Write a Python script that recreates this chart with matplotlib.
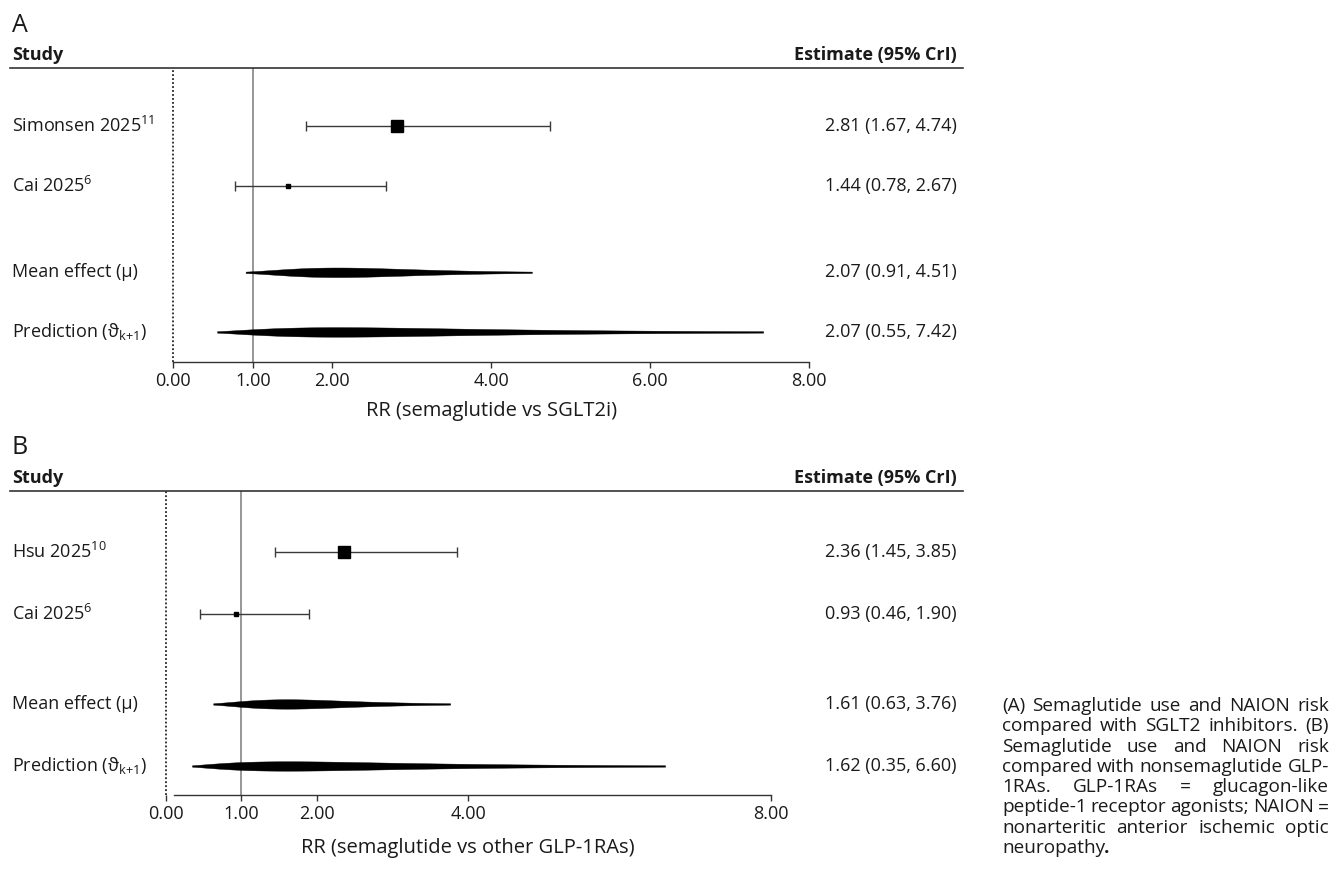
import numpy as np
import matplotlib
matplotlib.use('Agg')
import matplotlib.pyplot as plt

plt.rcParams['font.family'] = ['Open Sans', 'DejaVu Sans']
plt.rcParams['mathtext.fontset'] = 'custom'
plt.rcParams['mathtext.rm'] = 'Open Sans'
plt.rcParams['mathtext.it'] = 'Open Sans'
plt.rcParams['mathtext.bf'] = 'Open Sans:bold'
plt.rcParams['mathtext.fallback'] = 'stixsans'

# Panel A: semaglutide vs SGLT2i
a_studies = ['Simonsen 2025$^{11}$', 'Cai 2025$^{6}$']
a_est = [2.81, 1.44]
a_lo = [1.67, 0.78]
a_hi = [4.74, 2.67]
a_sum_est = [2.07, 2.07]
a_sum_lo = [0.91, 0.55]
a_sum_hi = [4.51, 7.42]
a_ticks = [0, 1, 2, 4, 6, 8]

# Panel B: semaglutide vs other GLP-1RAs
b_studies = ['Hsu 2025$^{10}$', 'Cai 2025$^{6}$']
b_est = [2.36, 0.93]
b_lo = [1.45, 0.46]
b_hi = [3.85, 1.90]
b_sum_est = [1.61, 1.62]
b_sum_lo = [0.63, 0.35]
b_sum_hi = [3.76, 6.60]
b_ticks = [0, 1, 2, 4, 8]

sum_labels = ['Mean effect (\u03bc)', r'Prediction ($\mathrm{\vartheta}_{\mathrm{k{+}1}}$)']

caption = ['(A) Semaglutide use and NAION risk',
           'compared with SGLT2 inhibitors. (B)',
           'Semaglutide use and NAION risk',
           'compared with nonsemaglutide GLP-',
           '1RAs. GLP-1RAs = glucagon-like',
           'peptide-1 receptor agonists; NAION =',
           'nonarteritic anterior ischemic optic',
           'neuropathy']

W, H = 1336, 889
TXT = '#1a1a1a'
fig = plt.figure(figsize=(W / 100, H / 100), dpi=100)


def px_axes(left, top, right, bottom):
    return fig.add_axes([left / W, 1 - bottom / H, (right - left) / W, (bottom - top) / H])


def panel(ax, letter, letter_y, studies, est, lo, hi, s_est, s_lo, s_hi,
          ticks, xlim, ylim, xlabel, axis_from, half, study_off, xlab_off):
    gap = 1.45
    y_sum = [2, 1]
    y_st = [2 + gap + 1, 2 + gap]

    ax.set_xlim(*xlim)
    ax.set_ylim(*ylim)

    ax.axvline(0, color='black', lw=1.1, ls=(0, (1.2, 1.4)), zorder=1)
    ax.axvline(1, color='#7a7a7a', lw=1.1, zorder=1)

    est = np.array(est)
    ax.errorbar(est, y_st, xerr=[est - np.array(lo), np.array(hi) - est],
                fmt='none', ecolor='#3a3a3a', elinewidth=1.0, capsize=3.4,
                capthick=1.0, zorder=2)
    for x, y, ms in zip(est, y_st, [9.0, 2.8]):
        ax.plot(x, y, marker='s', ms=ms, color='black', ls='none', zorder=3)

    # posterior-like shapes for the summary rows
    for m, l, h, y in zip(s_est, s_lo, s_hi, y_sum):
        xs = np.linspace(l, h, 400)
        lx, lm = np.log(xs), np.log(m)
        sl = (lm - np.log(l)) / 1.96
        sr = (np.log(h) - lm) / 1.96
        z = np.where(lx < lm, (lx - lm) / sl, (lx - lm) / sr)
        hw = half * np.exp(-z ** 2 / 2)
        ax.fill_between(xs, y - hw, y + hw, color='black', lw=0.3, zorder=3)

    yt = ax.get_yaxis_transform()
    for lab, y in zip(studies + sum_labels, y_st + y_sum):
        ax.text(0.002, y, lab, transform=yt, ha='left', va='center',
                fontsize=13, color=TXT)
    ests = [f'{e:.2f} ({l:.2f}, {h:.2f})' for e, l, h in zip(est, lo, hi)]
    ests += [f'{e:.2f} ({l:.2f}, {h:.2f})' for e, l, h in zip(s_est, s_lo, s_hi)]
    for s, y in zip(ests, y_st + y_sum):
        ax.text(0.9937, y, s, transform=yt, ha='right', va='center',
                fontsize=13, color=TXT)

    ax.text(0.002, 1 + study_off, 'Study', transform=ax.transAxes, ha='left',
            va='center', fontsize=13, fontweight='bold', color=TXT)
    ax.text(0.9937, 1 + study_off, 'Estimate (95% CrI)', transform=ax.transAxes,
            ha='right', va='center', fontsize=13, fontweight='bold', color=TXT)
    fig.text(12 / W, 1 - letter_y / H, letter, ha='left', va='center',
             fontsize=18, color=TXT)

    for sp in ['left', 'right']:
        ax.spines[sp].set_visible(False)
    ax.spines['top'].set_color('#333333')
    ax.spines['top'].set_linewidth(1.2)
    ax.spines['bottom'].set_color('#333333')
    ax.spines['bottom'].set_linewidth(1.0)
    ax.spines['bottom'].set_bounds(axis_from, 8)
    ax.set_yticks([])
    ax.set_xticks(ticks)
    ax.set_xticklabels([f'{t:.2f}' for t in ticks])
    ax.tick_params(axis='x', length=4.3, width=1.0, color='#333333', pad=3,
                   labelsize=13, labelcolor=TXT)
    ax.text(4, -xlab_off, xlabel, transform=ax.get_xaxis_transform(),
            ha='center', va='center', fontsize=14.5, color=TXT)


axA = px_axes(10, 68, 963, 362)
panel(axA, 'A', 25, a_studies, a_est, a_lo, a_hi, a_sum_est, a_sum_lo, a_sum_hi,
      a_ticks, (-163.3 / 79.5, 789.7 / 79.5), (0.496, 5.425),
      'RR (semaglutide vs SGLT2i)', 0, 0.08, 13 / 294, 49 / 294)

axB = px_axes(10, 491, 963, 795)
panel(axB, 'B', 448, b_studies, b_est, b_lo, b_hi, b_sum_est, b_sum_lo, b_sum_hi,
      b_ticks, (-155.5 / 75.7, 797.5 / 75.7), (0.532, 5.434),
      'RR (semaglutide vs other GLP-1RAs)', 0.11, 0.076, 13 / 304, 53 / 304)

# justified caption on the right
cap_left, cap_right, base0, step = 1002, 1329, 711, 20.3
fig.canvas.draw()
rend = fig.canvas.get_renderer()


def word_w(s, fs, **kw):
    t = fig.text(0, 0, s, fontsize=fs, **kw)
    w = t.get_window_extent(rend).width
    t.remove()
    return w


# size the caption so the tightest line fills the column
cap_fs = 10 * (cap_right - cap_left) / word_w(caption[3], 10)

for i, line in enumerate(caption):
    yy = 1 - (base0 + i * step) / H
    words = line.split()
    if i == len(caption) - 1:
        fig.text(cap_left / W, yy, line, fontsize=cap_fs, va='baseline', color=TXT)
        fig.text((cap_left + word_w(line, cap_fs) - 1) / W, yy, '.', fontsize=cap_fs,
                 fontweight='bold', va='baseline', color=TXT)
        continue
    widths = [word_w(w, cap_fs) for w in words]
    sp = (cap_right - cap_left - sum(widths)) / (len(words) - 1)
    x = cap_left
    for w, ww in zip(words, widths):
        fig.text(x / W, yy, w, fontsize=cap_fs, va='baseline', color=TXT)
        x += ww + sp

fig.savefig('out.png', dpi=100)
